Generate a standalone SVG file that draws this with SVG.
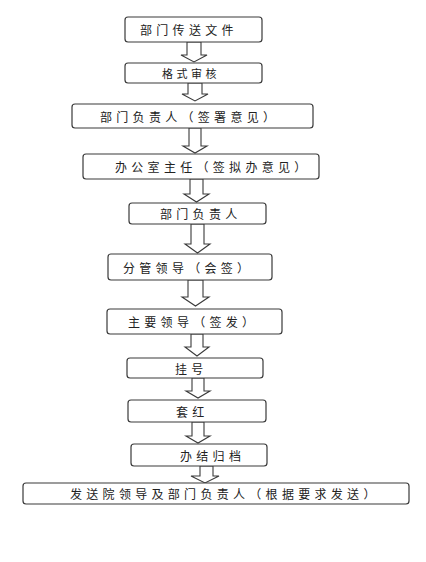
<svg xmlns="http://www.w3.org/2000/svg" width="426" height="562" viewBox="0 0 426 562">
<style>
.box{fill:#fff;stroke:#3a3a3a;stroke-width:1.2}
.arr{fill:#fff;stroke:#3a3a3a;stroke-width:1.1;stroke-linejoin:miter}
.t{font-family:"Noto Sans CJK SC","Liberation Sans",sans-serif;font-size:12px;letter-spacing:4.3px;fill:#222;dominant-baseline:central}
</style>
<rect width="426" height="562" fill="#fff"/>
<g id="connectors">
<polygon class="arr" points="187,42 201,42 201,55 207,55 194,62 181,55 187,55"/>
<polygon class="arr" points="188,83 202,83 202,94 208,94 195,101 182,94 188,94"/>
<polygon class="arr" points="189,128 201,128 201,146 207,146 195,153 183,146 189,146"/>
<polygon class="arr" points="190,179 203,179 203,194 209,194 196.5,202 184,194 190,194"/>
<polygon class="arr" points="191,224 204,224 204,244 210,244 197.5,253 185,244 191,244"/>
<polygon class="arr" points="188,280 203,280 203,297 209,297 195.5,306 182,297 188,297"/>
<polygon class="arr" points="191,334 203,334 203,347 209,347 197,356 185,347 191,347"/>
<polygon class="arr" points="192,378 204,378 204,391 210,391 198,398 186,391 192,391"/>
<polygon class="arr" points="192,422 204,422 204,436 210,436 198,443 186,436 192,436"/>
<polygon class="arr" points="200,466 213,466 213,476 219,476 205,483 191,476 200,476"/>
</g>
<g id="n1"><rect class="box" x="125" y="17" width="137" height="25" rx="3"/><text class="t" x="140" y="29.5">部门传送文件</text></g>
<g id="n2"><rect class="box" x="125" y="63" width="137" height="20" rx="3"/><text class="t" x="162" y="73" style="font-size:11px;letter-spacing:3.5px">格式审核</text></g>
<g id="n3"><rect class="box" x="72" y="104" width="241" height="24" rx="3"/><text class="t" x="100" y="116">部门负责人（签署意见）</text></g>
<g id="n4"><rect class="box" x="83" y="154" width="236" height="25" rx="3"/><text class="t" x="115" y="166.5">办公室主任（签拟办意见）</text></g>
<g id="n5"><rect class="box" x="129" y="203" width="137" height="21" rx="3"/><text class="t" x="160" y="213.5">部门负责人</text></g>
<g id="n6"><rect class="box" x="108" y="254" width="164" height="26" rx="3"/><text class="t" x="123" y="267">分管领导（会签）</text></g>
<g id="n7"><rect class="box" x="107" y="309" width="175" height="25" rx="3"/><text class="t" x="128" y="321.5">主要领导（签发）</text></g>
<g id="n8"><rect class="box" x="127" y="358" width="136" height="20" rx="3"/><text class="t" x="175" y="368">挂号</text></g>
<g id="n9"><rect class="box" x="128" y="400" width="138" height="22" rx="3"/><text class="t" x="176" y="411">套红</text></g>
<g id="n10"><rect class="box" x="131" y="444" width="136" height="22" rx="3"/><text class="t" x="180" y="455">办结归档</text></g>
<g id="n11"><rect class="box" x="23" y="483" width="386" height="21" rx="3"/><text class="t" x="70" y="493.5">发送院领导及部门负责人（根据要求发送）</text></g>
</svg>
